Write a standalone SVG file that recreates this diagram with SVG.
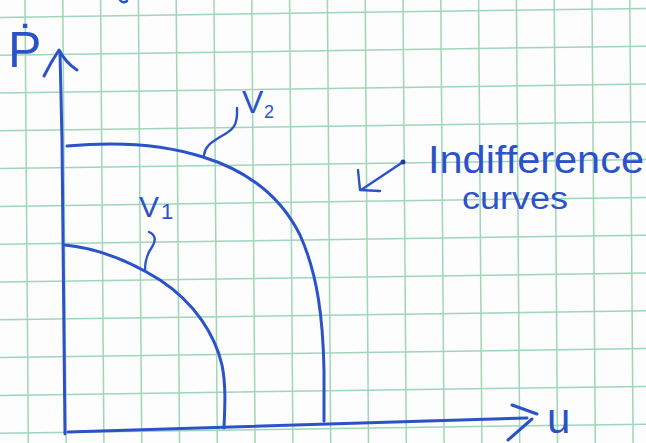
<svg xmlns="http://www.w3.org/2000/svg" width="646" height="443" viewBox="0 0 646 443">
<style>
.grid line{stroke:#9fd6b9;stroke-width:1.5}
.pen{fill:none;stroke:#2b52c9;stroke-width:3;stroke-linecap:round;stroke-linejoin:round}
.thin{fill:none;stroke:#2b52c9;stroke-width:2.4;stroke-linecap:round;stroke-linejoin:round}
text{fill:#2b52c9;font-family:"Liberation Sans","DejaVu Sans",sans-serif}
</style>
<rect width="646" height="443" fill="#fdfdfd"/>
<g class="grid">
<line x1="25" y1="0" x2="28.3" y2="443"/>
<line x1="62.8" y1="0" x2="66.1" y2="443"/>
<line x1="100.6" y1="0" x2="103.9" y2="443"/>
<line x1="138.4" y1="0" x2="141.7" y2="443"/>
<line x1="176.2" y1="0" x2="179.5" y2="443"/>
<line x1="214" y1="0" x2="217.3" y2="443"/>
<line x1="251.8" y1="0" x2="255.1" y2="443"/>
<line x1="289.6" y1="0" x2="292.9" y2="443"/>
<line x1="327.4" y1="0" x2="330.7" y2="443"/>
<line x1="365.2" y1="0" x2="368.5" y2="443"/>
<line x1="403" y1="0" x2="406.3" y2="443"/>
<line x1="440.8" y1="0" x2="444.1" y2="443"/>
<line x1="478.6" y1="0" x2="481.9" y2="443"/>
<line x1="516.4" y1="0" x2="519.7" y2="443"/>
<line x1="554.2" y1="0" x2="557.5" y2="443"/>
<line x1="592" y1="0" x2="595.3" y2="443"/>
<line x1="629.8" y1="0" x2="633.1" y2="443"/>
<line x1="0" y1="17.4" x2="646" y2="8.4"/>
<line x1="0" y1="55.2" x2="646" y2="46.2"/>
<line x1="0" y1="93" x2="646" y2="84"/>
<line x1="0" y1="130.8" x2="646" y2="121.8"/>
<line x1="0" y1="168.6" x2="646" y2="159.6"/>
<line x1="0" y1="206.4" x2="646" y2="197.4"/>
<line x1="0" y1="244.2" x2="646" y2="235.2"/>
<line x1="0" y1="282" x2="646" y2="273"/>
<line x1="0" y1="319.8" x2="646" y2="310.8"/>
<line x1="0" y1="357.6" x2="646" y2="348.6"/>
<line x1="0" y1="395.4" x2="646" y2="386.4"/>
<line x1="0" y1="433.2" x2="646" y2="424.2"/>
</g>
<g id="axes">
<path class="pen" d="M60,52 L62,140 L65,434"/>
<path class="pen" d="M44,76 Q51,62 59,50 Q66,63 77,70"/>
<path class="pen" d="M68,432 L527,418"/>
<path class="pen" d="M512,405 L537,414 M532,419 L508,440"/>
<path class="thin" d="M120,0 Q123,4 127,1"/>
</g>
<g id="curve-v2">
<path class="pen" d="M67,146 C110,142 160,143 203,157 C245,170 280,195 300,235 C318,275 323,320 324,370 L324,421"/>
<path class="thin" d="M204,155 C205,147 210,143 220,137 C233,130 238,126 237,108"/>
<text x="242" y="113" font-size="32">V</text>
<text x="264" y="118" font-size="18">2</text>
</g>
<g id="curve-v1">
<path class="pen" d="M65,245 C95,248 125,258 160,280 C195,303 215,335 222,365 C226,385 225,405 224,428"/>
<path class="thin" d="M149,232 C156,235 156,241 152,247 C147,254 145,260 145,270"/>
<text x="139" y="217" font-size="30">V</text>
<text x="161" y="219" font-size="22">1</text>
</g>
<g id="label-p">
<text x="8" y="67" font-size="50">Ṗ</text>
</g>
<g id="label-u">
<text x="547" y="433" font-size="42">u</text>
</g>
<g id="label-indifference">
<path class="thin" d="M403,162 L361,190 M358,170 L360,190 L380,191"/>
<circle cx="403" cy="162" r="2.5" fill="#1f3a9e"/>
<text font-size="38"><tspan x="428" y="173" textLength="216" lengthAdjust="spacingAndGlyphs">Indifference</tspan><tspan x="462" y="209" font-size="32" textLength="106" lengthAdjust="spacingAndGlyphs">curves</tspan></text>
</g>
</svg>
